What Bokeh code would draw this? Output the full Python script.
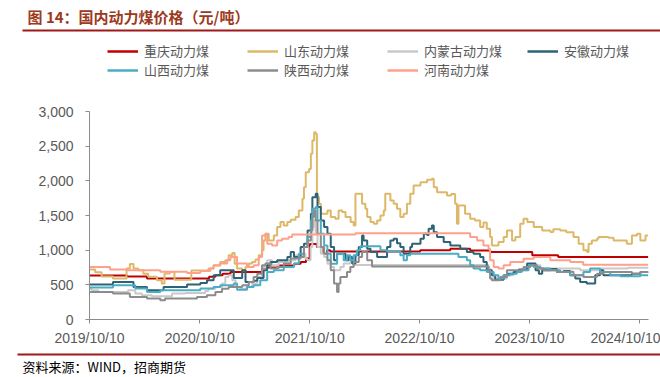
import pandas as pd
from bokeh.plotting import figure
from bokeh.layouts import column
from bokeh.models import (FixedTicker, DatetimeTickFormatter, NumeralTickFormatter,
                          Legend, LegendItem, Label, BoxAnnotation, Range1d)
from bokeh.embed import file_html
from bokeh.resources import INLINE

# ---------------- data ----------------
series_names = ["重庆动力煤", "山东动力煤", "内蒙古动力煤", "安徽动力煤",
                "山西动力煤", "陕西动力煤", "河南动力煤"]
series_colors = ["#C00000", "#DDB868", "#C9C9C9", "#2E6275",
                 "#4BACC6", "#8C8C8C", "#FFA08C"]

cq_dates = ["2019-10-10", "2020-02-12", "2020-04-18", "2020-11-10", "2020-12-01", "2020-12-25",
            "2021-01-20", "2021-05-05", "2021-07-01", "2021-08-20", "2021-09-10", "2021-09-28",
            "2021-10-10", "2021-11-03", "2021-11-25", "2021-12-07", "2021-12-17", "2022-10-12",
            "2023-01-20", "2023-03-27", "2023-06-02", "2023-10-19", "2024-01-13", "2024-11-07"]
cq_vals = [635, 620, 590, 615, 640, 660, 685, 750, 780, 805, 830, 880, 1090, 1045, 950, 1000,
           980, 1000, 1020, 995, 975, 925, 900, 900]

sd_dates = ["2019-10-10", "2019-10-29", "2019-11-19", "2019-12-27", "2020-02-10", "2020-02-21",
            "2020-03-04", "2020-03-20", "2020-04-06", "2020-04-22", "2020-05-21", "2020-06-06",
            "2020-06-15", "2020-07-03", "2020-07-18", "2020-09-12", "2020-11-08", "2020-11-25",
            "2020-12-17", "2021-01-03", "2021-01-14", "2021-01-26", "2021-02-03", "2021-02-11",
            "2021-02-28", "2021-03-11", "2021-03-22", "2021-04-02", "2021-04-13", "2021-04-24",
            "2021-05-05", "2021-05-10", "2021-05-16", "2021-05-27", "2021-06-13", "2021-06-24",
            "2021-07-05", "2021-07-16", "2021-07-28", "2021-08-08", "2021-08-24", "2021-09-04",
            "2021-09-16", "2021-09-21", "2021-09-27", "2021-10-08", "2021-10-14", "2021-10-19",
            "2021-10-25", "2021-10-30", "2021-11-03", "2021-11-10", "2021-11-16", "2021-12-08",
            "2021-12-19", "2022-01-03", "2022-01-14", "2022-01-26", "2022-02-06", "2022-02-23",
            "2022-03-05", "2022-03-11", "2022-04-02", "2022-04-13", "2022-04-19", "2022-04-30",
            "2022-05-11", "2022-05-22", "2022-06-02", "2022-06-13", "2022-06-18", "2022-07-05",
            "2022-07-16", "2022-07-27", "2022-08-07", "2022-08-18", "2022-08-29", "2022-09-09",
            "2022-09-20", "2022-10-13", "2022-11-04", "2022-11-20", "2022-11-26", "2022-12-07",
            "2023-01-09", "2023-01-23", "2023-02-05", "2023-02-11", "2023-02-16", "2023-03-10",
            "2023-03-27", "2023-04-12", "2023-04-29", "2023-05-10", "2023-05-21", "2023-06-01",
            "2023-06-07", "2023-06-29", "2023-07-16", "2023-07-27", "2023-08-13", "2023-08-24",
            "2023-09-09", "2023-09-20", "2023-10-03", "2023-10-24", "2023-11-21", "2023-12-18",
            "2023-12-28", "2024-01-20", "2024-02-09", "2024-03-04", "2024-03-21", "2024-04-06",
            "2024-04-18", "2024-04-23", "2024-05-04", "2024-05-21", "2024-05-26", "2024-06-28",
            "2024-07-15", "2024-08-28", "2024-09-14", "2024-10-01", "2024-10-12", "2024-10-29",
            "2024-11-07"]
sd_vals = [720, 680, 620, 590, 735, 800, 735, 710, 660, 615, 565, 520, 665, 685, 575, 705, 735,
           780, 830, 855, 925, 960, 805, 735, 705, 757, 806, 830, 865, 925, 1000, 1140, 1237, 1140,
           1213, 1333, 1405, 1357, 1405, 1440, 1477, 1573, 1741, 1908, 2124, 2172, 2389, 2580,
           2700, 2676, 1765, 1669, 1525, 1573, 1477, 1453, 1573, 1549, 1477, 1405, 1357, 1813,
           1669, 1597, 1477, 1405, 1381, 1429, 1501, 1573, 1813, 1717, 1669, 1597, 1477, 1525,
           1669, 1813, 1933, 1981, 2015, 2030, 1909, 1837, 1789, 1810, 1669, 1381, 1645, 1525,
           1453, 1429, 1333, 1400, 1309, 1189, 1069, 1117, 1189, 1285, 1141, 1190, 1381, 1453,
           1405, 1333, 1285, 1261, 1300, 1285, 1260, 1189, 1093, 997, 973, 1093, 1141, 1165, 1189,
           1180, 1141, 1093, 1213, 1237, 1141, 1213, 1213]

nmg_dates = ["2019-10-10", "2019-10-18", "2019-11-08", "2020-02-15", "2020-03-10", "2020-04-01",
             "2020-05-04", "2020-07-10", "2020-08-23", "2020-10-28", "2020-11-08", "2020-12-01",
             "2020-12-23", "2021-01-03", "2021-01-14", "2021-01-26", "2021-02-06", "2021-02-22",
             "2021-03-16", "2021-04-02", "2021-04-19", "2021-05-05", "2021-05-22", "2021-06-07",
             "2021-06-29", "2021-08-01", "2021-08-24", "2021-09-15", "2021-09-26", "2021-10-02",
             "2021-10-13", "2021-10-19", "2021-10-24", "2021-10-30", "2021-11-05", "2021-11-16",
             "2021-11-27", "2021-12-08", "2021-12-19", "2021-12-30", "2022-01-20", "2022-01-31",
             "2022-02-22", "2022-03-05", "2023-05-21", "2023-05-27", "2023-06-01", "2023-06-13",
             "2023-07-27", "2023-08-18", "2023-09-09", "2023-10-02", "2023-11-15", "2024-03-26",
             "2024-05-31", "2024-09-01", "2024-11-07"]
nmg_vals = [440, 421, 397, 421, 374, 350, 336, 374, 383, 412, 445, 470, 518, 613, 637, 565, 470,
            445, 470, 518, 613, 757, 853, 781, 829, 853, 925, 949, 877, 853, 1045, 1333, 1429,
            1237, 1045, 949, 901, 805, 757, 709, 757, 806, 853, 785, 785, 734, 637, 590, 637, 685,
            709, 781, 734, 709, 734, 745, 750]

ah_dates = ["2019-10-10", "2019-12-27", "2020-03-04", "2020-04-18", "2020-06-12", "2020-08-29",
            "2020-10-12", "2020-11-03", "2020-11-25", "2020-12-17", "2021-01-31", "2021-02-28",
            "2021-03-11", "2021-04-07", "2021-04-19", "2021-05-10", "2021-05-22", "2021-06-02",
            "2021-06-24", "2021-07-28", "2021-08-08", "2021-08-19", "2021-09-10", "2021-09-21",
            "2021-10-03", "2021-10-14", "2021-10-19", "2021-10-30", "2021-11-05", "2021-11-16",
            "2021-11-27", "2021-12-08", "2021-12-19", "2021-12-30", "2022-01-09", "2022-02-06",
            "2022-02-16", "2022-02-28", "2022-03-11", "2022-03-22", "2022-04-02", "2022-04-07",
            "2022-04-19", "2022-04-30", "2022-05-22", "2022-06-24", "2022-07-05", "2022-07-16",
            "2022-07-27", "2022-08-07", "2022-08-18", "2022-09-09", "2022-09-15", "2022-10-13",
            "2022-10-24", "2022-11-04", "2022-11-09", "2022-11-20", "2022-11-26", "2022-12-07",
            "2022-12-29", "2023-01-20", "2023-02-22", "2023-03-16", "2023-04-07", "2023-04-29",
            "2023-05-10", "2023-05-21", "2023-06-07", "2023-06-18", "2023-07-16", "2023-07-27",
            "2023-08-18", "2023-09-04", "2023-10-02", "2023-10-30", "2023-11-10", "2023-11-21",
            "2023-12-18", "2024-01-09", "2024-01-31", "2024-02-22", "2024-03-10", "2024-03-26",
            "2024-04-17", "2024-05-15", "2024-05-31", "2024-06-11", "2024-09-14", "2024-10-12",
            "2024-11-07"]
ah_vals = [504, 541, 470, 421, 470, 504, 527, 565, 637, 709, 600, 709, 541, 560, 600, 709, 781,
           829, 853, 901, 973, 901, 1045, 1093, 1285, 1525, 1765, 1813, 1621, 1429, 1333, 1237,
           1045, 853, 950, 853, 900, 806, 925, 1045, 1213, 1141, 1021, 973, 901, 1045, 1141, 1165,
           1100, 1045, 949, 1045, 1093, 1165, 1237, 1220, 1309, 1357, 1260, 1189, 1117, 1069,
           1021, 973, 949, 901, 829, 709, 637, 575, 637, 661, 685, 721, 806, 709, 661, 709, 730,
           685, 700, 637, 590, 541, 518, 637, 709, 637, 661, 685, 690]

shx_dates = ["2019-10-10", "2019-12-27", "2020-03-10", "2020-04-18", "2020-06-01", "2020-10-12",
             "2020-11-25", "2020-12-17", "2021-01-31", "2021-02-11", "2021-03-16", "2021-04-07",
             "2021-04-29", "2021-05-22", "2021-06-13", "2021-07-16", "2021-08-19", "2021-09-04",
             "2021-09-21", "2021-10-03", "2021-10-14", "2021-10-19", "2021-10-30", "2021-11-05",
             "2021-11-16", "2021-11-27", "2021-12-08", "2021-12-19", "2022-01-09", "2022-01-31",
             "2022-02-11", "2022-02-22", "2022-03-05", "2022-03-16", "2022-03-27", "2022-06-02",
             "2022-06-24", "2022-08-07", "2022-08-18", "2022-08-29", "2022-09-09", "2023-02-16",
             "2023-03-16", "2023-03-27", "2023-04-07", "2023-04-29", "2023-05-21", "2023-06-13",
             "2023-06-29", "2023-07-16", "2023-08-07", "2023-08-29", "2023-09-14", "2023-10-07",
             "2023-10-24", "2023-11-15", "2023-12-18", "2024-01-20", "2024-02-22", "2024-04-06",
             "2024-04-28", "2024-05-31", "2024-07-04", "2024-08-06", "2024-10-12", "2024-11-07"]
shx_vals = [460, 493, 446, 397, 421, 446, 470, 493, 518, 430, 470, 493, 565, 685, 709, 757, 806,
            949, 1045, 1189, 1429, 1597, 1621, 1429, 1237, 1069, 949, 805, 949, 853, 925, 853,
            925, 997, 1055, 997, 980, 925, 853, 925, 949, 901, 853, 781, 734, 709, 685, 637, 590,
            637, 661, 685, 709, 781, 757, 734, 709, 685, 637, 685, 734, 685, 637, 623, 637, 637]

snx_dates = ["2019-10-10", "2019-12-27", "2020-02-21", "2020-04-18", "2020-06-01", "2020-06-17",
             "2020-10-01", "2020-11-03", "2020-12-01", "2020-12-23", "2021-01-14", "2021-02-28",
             "2021-03-22", "2021-04-07", "2021-04-19", "2021-05-05", "2021-05-16", "2021-06-02",
             "2021-06-24", "2021-07-16", "2021-08-08", "2021-09-10", "2021-09-21", "2021-10-03",
             "2021-10-14", "2021-10-19", "2021-10-24", "2021-10-30", "2021-11-05", "2021-11-16",
             "2021-11-27", "2021-12-08", "2021-12-19", "2021-12-30", "2022-01-09", "2022-01-14",
             "2022-01-20", "2022-02-11", "2022-02-22", "2022-03-05", "2022-03-22", "2022-04-02",
             "2022-04-19", "2022-05-05", "2023-05-21", "2023-05-27", "2023-06-01", "2023-06-07",
             "2023-07-05", "2023-07-27", "2023-09-20", "2023-10-13", "2023-11-04", "2023-11-26",
             "2024-01-09", "2024-01-31", "2024-03-04", "2024-04-06", "2024-05-21", "2024-06-11",
             "2024-09-14", "2024-10-12", "2024-11-07"]
snx_vals = [397, 374, 325, 302, 278, 302, 325, 350, 397, 445, 470, 493, 541, 613, 661, 781, 806,
            734, 757, 806, 880, 900, 1045, 1141, 1285, 1477, 1573, 1429, 1237, 1045, 949, 853,
            709, 518, 397, 518, 613, 685, 757, 829, 900, 973, 853, 765, 765, 709, 590, 565, 613,
            709, 757, 781, 734, 709, 685, 690, 637, 613, 661, 685, 661, 685, 685]

hn_dates = ["2019-10-10", "2019-12-17", "2020-02-14", "2020-06-01", "2020-08-29", "2020-10-12",
            "2020-11-14", "2020-11-25", "2020-12-17", "2021-01-09", "2021-01-20", "2021-02-11",
            "2021-03-16", "2021-04-07", "2021-04-24", "2021-05-05", "2021-05-16", "2021-05-22",
            "2021-06-07", "2021-06-24", "2021-07-10", "2021-08-01", "2021-08-13", "2022-03-11",
            "2023-03-11", "2023-03-27", "2023-04-19", "2023-05-10", "2023-05-27", "2023-06-01",
            "2023-06-13", "2023-06-29", "2023-07-16", "2023-08-07", "2023-09-20", "2023-10-24",
            "2023-12-18", "2024-02-22", "2024-04-05", "2024-11-07"]
hn_vals = [757, 720, 709, 690, 671, 700, 734, 781, 806, 853, 901, 806, 757, 781, 901, 1213, 1237,
           1093, 1069, 1141, 1165, 1189, 1225, 1245, 1245, 1189, 1141, 1069, 1021, 853, 757, 734,
           781, 829, 877, 901, 853, 829, 790, 790]

x_tick_dates = ["2019-10-10", "2020-10-10", "2021-10-10", "2022-10-10", "2023-10-10", "2024-10-10"]
y_ticks = [0, 500, 1000, 1500, 2000, 2500, 3000]
x_start, x_end = "2019-10-10", "2024-11-08"

title_text = "图 14：国内动力煤价格（元/吨）"
source_text = "资料来源：WIND，招商期货"

all_dates = [cq_dates, sd_dates, nmg_dates, ah_dates, shx_dates, snx_dates, hn_dates]
all_vals = [cq_vals, sd_vals, nmg_vals, ah_vals, shx_vals, snx_vals, hn_vals]

W = 660
HEAD_H = 88
FOOT_H = 29
MAIN_H = 377 - HEAD_H - FOOT_H
RULE_COLOR = "#A01818"


def bare(height):
    f = figure(width=W, height=height, output_backend="svg", toolbar_location=None,
               x_range=Range1d(0, W), y_range=Range1d(0, height),
               x_axis_location=None, y_axis_location=None,
               min_border_left=0, min_border_right=0, min_border_top=0, min_border_bottom=0)
    f.outline_line_color = None
    f.grid.visible = False
    f.background_fill_color = "white"
    f.frame_align = False
    return f


# ---------------- header: title, rule, legend ----------------
head = bare(HEAD_H)
head.add_layout(Label(x=27, y=HEAD_H - 16, x_units="screen", y_units="screen",
                      text=title_text, text_font="Noto Sans CJK SC",
                      text_font_style="bold", text_font_size="15px", text_color="#9C3A1E",
                      text_baseline="middle"))
head.add_layout(BoxAnnotation(left=22, right=W, top=HEAD_H - 29, bottom=HEAD_H - 31,
                              left_units="screen", right_units="screen",
                              top_units="screen", bottom_units="screen",
                              fill_color=RULE_COLOR, fill_alpha=1, line_color=None))

# ---------------- main chart ----------------
p = figure(width=W, height=MAIN_H, x_axis_type="datetime", output_backend="svg",
           toolbar_location=None,
           x_range=Range1d(pd.Timestamp(x_start), pd.Timestamp(x_end)),
           y_range=Range1d(0, 3000),
           min_border_left=89, min_border_right=12,
           min_border_top=111 - HEAD_H, min_border_bottom=MAIN_H - (319 - HEAD_H))
p.outline_line_color = None
p.grid.visible = False
p.background_fill_color = "white"
p.frame_align = False

items = []
for name, col, ds, vs in zip(series_names, series_colors, all_dates, all_vals):
    dts = pd.to_datetime(ds)
    p.step(x=dts, y=vs, mode="after", line_width=2, line_color=col)
    # legend key in the header: same series, far outside the header's visible range
    key = head.step(x=dts, y=vs, mode="after", line_width=2.5, line_color=col)
    items.append(LegendItem(label=name, renderers=[key]))

legend = Legend(items=items, location=(107, HEAD_H - 79), orientation="horizontal", ncols=4,
                glyph_width=31, glyph_height=18, label_height=18, label_width=103,
                label_standoff=6, spacing=0, padding=0, margin=0,
                border_line_color=None, background_fill_alpha=0,
                label_text_font="Noto Sans CJK SC", label_text_font_size="13px",
                label_text_color="#595959")
head.add_layout(legend)

tick_ms = [pd.Timestamp(d).value // 10**6 for d in x_tick_dates]
p.xaxis.ticker = FixedTicker(ticks=tick_ms)
fmt = "%Y/%m/%d"
p.xaxis.formatter = DatetimeTickFormatter(days=fmt, months=fmt, years=fmt, hours=fmt,
                                          hourmin=fmt, minutes=fmt)
p.yaxis.ticker = FixedTicker(ticks=y_ticks)
p.yaxis.formatter = NumeralTickFormatter(format="0,0")

for ax in (p.xaxis, p.yaxis):
    ax.axis_line_color = "#8C8C8C"
    ax.axis_line_width = 1
    ax.major_tick_line_color = "#8C8C8C"
    ax.major_tick_out = 4
    ax.major_tick_in = 0
    ax.minor_tick_line_color = None
    ax.major_label_text_color = "#595959"
    ax.major_label_text_font = "Liberation Sans"
    ax.major_label_text_font_size = "14px"
p.yaxis.major_label_standoff = 12
p.xaxis.major_label_standoff = 6

# ---------------- footer: rule and source ----------------
foot = bare(FOOT_H)
foot.add_layout(BoxAnnotation(left=17, right=W, top=FOOT_H - 5, bottom=FOOT_H - 7,
                              left_units="screen", right_units="screen",
                              top_units="screen", bottom_units="screen",
                              fill_color=RULE_COLOR, fill_alpha=1, line_color=None))
foot.add_layout(Label(x=22, y=FOOT_H - 18, x_units="screen", y_units="screen",
                      text=source_text, text_font="Noto Sans CJK SC",
                      text_font_size="13px", text_color="#000000", text_baseline="middle"))

layout = column(head, p, foot, spacing=0)
open("out.html", "w").write(file_html(layout, INLINE))
